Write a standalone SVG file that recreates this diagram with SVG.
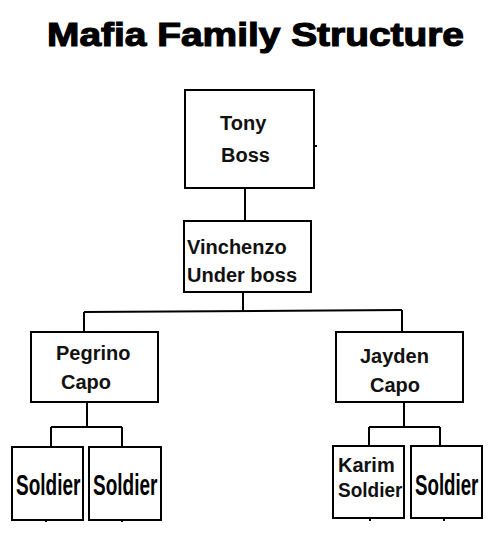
<svg xmlns="http://www.w3.org/2000/svg" width="497" height="547" viewBox="0 0 497 547">
<style>
.box{fill:#fff;stroke:#000;stroke-width:2}
.ln{stroke:#000;stroke-width:2;fill:none}
.t{font-family:"Liberation Sans",Arial,sans-serif;font-weight:bold;font-size:20px;fill:#111}
.s{font-family:"Liberation Sans",Arial,sans-serif;font-weight:bold;font-size:29px;fill:#000}
</style>
<rect width="497" height="547" fill="#fff"/>
<text x="47" y="46" font-family="'Liberation Sans',Arial,sans-serif" font-weight="bold" font-size="34" stroke="#000" stroke-width="1.2" textLength="417" lengthAdjust="spacingAndGlyphs">Mafia Family Structure</text>
<g id="connectors">
<path class="ln" d="M245 188V221"/>
<path class="ln" d="M243 292V312"/>
<path class="ln" d="M84 312L402 310"/>
<path class="ln" d="M84 312V332"/>
<path class="ln" d="M402 310V332"/>
<path class="ln" d="M87 402V427M51 427H122M51 427V447M122 427V447"/>
<path class="ln" d="M404 402V427M369 427H440M369 427V446M440 427V446"/>
<path class="ln" d="M314 146H317M46 520V522M122 520V522M370 518V521M444 518V521"/>
</g>
<g id="tony"><rect class="box" x="185" y="90" width="129" height="98"/><text class="t" x="220" y="130">Tony</text><text class="t" x="221" y="162">Boss</text></g>
<g id="vinchenzo"><rect class="box" x="184" y="221" width="127" height="71"/><text class="t" x="187" y="254">Vinchenzo</text><text class="t" x="187" y="282">Under boss</text></g>
<g id="pegrino"><rect class="box" x="31" y="332" width="127" height="70"/><text class="t" x="56" y="360">Pegrino</text><text class="t" x="61" y="389">Capo</text></g>
<g id="jayden"><rect class="box" x="336" y="332" width="127" height="70"/><text class="t" x="360" y="363">Jayden</text><text class="t" x="370" y="392">Capo</text></g>
<g id="soldier1"><rect class="box" x="12" y="447" width="71" height="73"/><text class="s" transform="translate(16 495) scale(0.655 1)">Soldier</text></g>
<g id="soldier2"><rect class="box" x="89" y="447" width="72" height="73"/><text class="s" transform="translate(93 495) scale(0.655 1)">Soldier</text></g>
<g id="karim"><rect class="box" x="333" y="446" width="71" height="72"/><text class="t" x="338" y="472">Karim</text><text class="t" transform="translate(338 497) scale(0.95 1)" font-size="18">Soldier</text></g>
<g id="soldier3"><rect class="box" x="411" y="446" width="71" height="72"/><text class="s" transform="translate(415 495) scale(0.645 1)">Soldier</text></g>
</svg>
